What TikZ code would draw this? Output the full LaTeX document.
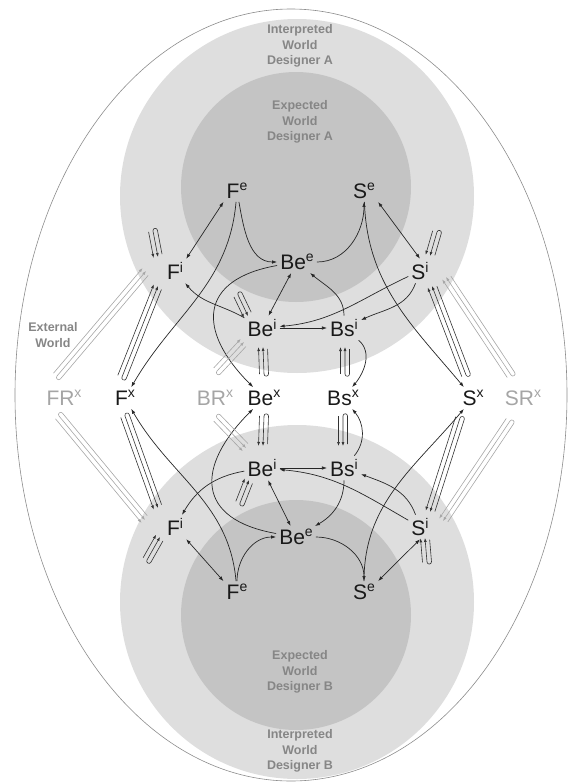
\documentclass[tikz,border=0pt]{standalone}
\usepackage{fontspec}
\setmainfont{Liberation Sans}
\usetikzlibrary{arrows.meta,calc}
\definecolor{lightbg}{HTML}{DEDEDE}
\definecolor{darkbg}{HTML}{C4C4C4}
\definecolor{worldtxt}{HTML}{868686}
\definecolor{reqtxt}{HTML}{A5A5A5}
\newcommand{\ix}[1]{\raisebox{7.8pt}{\fontsize{14}{14}\selectfont #1}}
\newcommand{\pushpull}[4]{%
  \pgfmathsetmacro{\ppo}{#2*4.5}%
  \pgfmathsetmacro{\ppu}{-#2*4.5}%
  \path #3 coordinate (pp-a) #4 coordinate (pp-b);
  \path ($(pp-a)!\ppu pt!90:(pp-b)$) coordinate (pp-c)
        ($(pp-b)!\ppu pt!-90:(pp-a)$) coordinate (pp-d);
  \draw[#1] ($(pp-a)!\ppo pt!90:(pp-b)$) -- ($(pp-b)!\ppo pt!-90:(pp-a)$);
  \draw[#1, shorten <=2pt] (pp-d) -- (pp-c)
    .. controls ($(pp-c)!-3pt!(pp-d)$) and ($(pp-a)!-3pt!(pp-b)$) .. (pp-a) -- (pp-b);
}
\tikzset{
  lbl/.style={font=\fontsize{21}{21}\selectfont, text=black!90, inner sep=3pt},
  req/.style={lbl, text=reqtxt},
  world/.style={font=\fontsize{12.5}{15.5}\selectfont\bfseries, text=worldtxt, align=center},
  link/.style={draw=black!85, line width=0.7pt, -{Latex[length=5pt,width=3.5pt]}},
  both/.style={link, {Latex[length=5pt,width=3.5pt]}-{Latex[length=5pt,width=3.5pt]}},
  ppk/.style={draw=black!80, line width=0.6pt, -{Latex[length=4pt,width=3pt]}},
  ppg/.style={ppk, draw=black!35},
}
\begin{document}
\begin{tikzpicture}[x=1pt,y=-1pt]
\useasboundingbox (0,0) rectangle (570,782);
\begin{scope}
  \clip (291,395) ellipse [x radius=276pt, y radius=386pt];
  \fill[lightbg] (297,196) circle [radius=177pt];
  \fill[lightbg] (297,602) circle [radius=177pt];
  \fill[darkbg] (296,187) circle [radius=115pt];
  \fill[darkbg] (296,615) circle [radius=115pt];
\end{scope}
\draw[black!45, line width=0.6pt] (291,395) ellipse [x radius=276pt, y radius=386pt];

\node[world] (iwa) at (300,46) {Interpreted\\World\\Designer A};
\node[world] (ewa) at (300,122) {Expected\\World\\Designer A};
\node[world] (ewb) at (300,672) {Expected\\World\\Designer B};
\node[world] (iwb) at (300,751) {Interpreted\\World\\Designer B};
\node[world] (ext) at (53,335) {External\\World};

\foreach \n/\x/\y/\t in {FeA/237/191/{F\ix{e}}, SeA/364/191/{S\ix{e}}, BeeA/297/262/{Be\ix{e}},
    FiA/175/271/{F\ix{i}}, SiA/420/271/{S\ix{i}}, BeiA/262/328/{Be\ix{i}}, BsiA/344/328/{Bs\ix{i}},
    Fx/125/398/{F\ix{x}}, Bex/264/398/{Be\ix{x}}, Bsx/343/398/{Bs\ix{x}}, Sx/473/398/{S\ix{x}},
    BeiB/262/468/{Be\ix{i}}, BsiB/344/468/{Bs\ix{i}}, FiB/175/527/{F\ix{i}}, BeeB/296/537/{Be\ix{e}},
    SiB/420/527/{S\ix{i}}, FeB/237/592/{F\ix{e}}, SeB/364/592/{S\ix{e}}}{
  \node[lbl] (\n) at (\x,\y) {\t};
}
\foreach \n/\x/\t in {FRx/64/{FR\ix{x}}, BRx/215/{BR\ix{x}}, SRx/523/{SR\ix{x}}}{
  \node[req] (\n) at (\x,398) {\t};
}

\draw[both] (FeA.south west) -- (FiA.north east);
\draw[link] (FeA) to[out=-80,in=180] (BeeA);
\draw[link] (BeeA) to[out=0,in=-90] (SeA);
\draw[both] (SeA.south east) -- (SiA.north);
\draw[both] (BeeA) -- (BeiA);
\draw[link] (BeiA) to[out=150,in=-50] (FiA);
\draw[link] (BeiA) -- (BsiA);
\draw[link] (BsiA) to[out=90,in=-40] (BeeA);
\draw[link] (SiA) to[out=-155,in=5] (BeiA);
\draw[link] (SiA) to[out=-110,in=25] (BsiA);
\draw[link] (FeA) to[out=-95,in=60] (Fx);
\draw[link] (BeeA) to[out=190,in=135,looseness=1.65] (Bex);
\draw[link] (SeA) to[out=-88,in=130] (Sx);
\draw[link] (BsiA) to[out=-40,in=50] (Bsx);

\draw[both] (FiB.south east) -- (FeB.north west);
\draw[link] (FeB) to[out=90,in=180] (BeeB);
\draw[link] (BeeB) to[out=0,in=90] (SeB);
\draw[both] (SeB.north east) -- (SiB.south);
\draw[both] (BeiB) -- (BeeB);
\draw[link] (BeiB) to[out=-170,in=60] (FiB);
\draw[link] (BeiB) -- (BsiB);
\draw[link] (BsiB) to[out=-90,in=30] (BeeB);
\draw[link] (SiB) to[out=150,in=-5] (BeiB);
\draw[link] (SiB) to[out=110,in=-20] (BsiB);
\draw[link] (FeB) to[out=95,in=-60] (Fx);
\draw[link] (BeeB) to[out=170,in=-135,looseness=1.65] (Bex);
\draw[link] (SeB) to[out=90,in=-130] (Sx);
\draw[link] (BsiB) to[out=50,in=-50] (Bsx);

\pushpull{ppk}{1}{([shift={(-3,-21)}]Fx.center)}{([shift={(-17,15)}]FiA.center)}
\pushpull{ppk}{1}{([shift={(-7,-23)}]Sx.center)}{([shift={(12,15)}]SiA.center)}
\pushpull{ppk}{1}{([shift={(0,-24)}]Bex.center)}{([shift={(1,19)}]BeiA.center)}
\pushpull{ppk}{1}{([shift={(2,-24)}]Bsx.center)}{([shift={(1,19)}]BsiA.center)}
\pushpull{ppk}{-1}{([shift={(0,18)}]Fx.center)}{([shift={(-17,-19)}]FiB.center)}
\pushpull{ppk}{-1}{([shift={(-13,20)}]Sx.center)}{([shift={(10,-15)}]SiB.center)}
\pushpull{ppk}{-1}{([shift={(0,18)}]Bex.center)}{([shift={(1,-22)}]BeiB.center)}
\pushpull{ppk}{-1}{([shift={(0,18)}]Bsx.center)}{([shift={(-1,-22)}]BsiB.center)}

\pushpull{ppk}{-1}{([shift={(-22,-40)}]FiA.center)}{([shift={(-17,-14)}]FiA.center)}
\pushpull{ppk}{-1}{([shift={(-24,-33)}]BeiA.center)}{([shift={(-14,-12)}]BeiA.center)}
\pushpull{ppk}{-1}{([shift={(17,-39)}]SiA.center)}{([shift={(10,-15)}]SiA.center)}
\pushpull{ppk}{1}{([shift={(-28,33)}]FiB.center)}{([shift={(-15,10)}]FiB.center)}
\pushpull{ppk}{1}{([shift={(-22,35)}]BeiB.center)}{([shift={(-13,12)}]BeiB.center)}
\pushpull{ppk}{1}{([shift={(7,35)}]SiB.center)}{([shift={(5,11)}]SiB.center)}

\pushpull{ppg}{1}{([shift={(-7,-22)}]FRx.center)}{([shift={(-29,0)}]FiA.center)}
\pushpull{ppg}{1}{([shift={(2,-27)}]BRx.center)}{([shift={(-18,14)}]BeiA.center)}
\pushpull{ppg}{1}{([shift={(-12,-23)}]SRx.center)}{([shift={(26,6)}]SiA.center)}
\pushpull{ppg}{-1}{([shift={(-5,18)}]FRx.center)}{([shift={(-30,-7)}]FiB.center)}
\pushpull{ppg}{-1}{([shift={(2,20)}]BRx.center)}{([shift={(-16,-20)}]BeiB.center)}
\pushpull{ppg}{-1}{([shift={(-13,23)}]SRx.center)}{([shift={(23,-6)}]SiB.center)}
\end{tikzpicture}
\end{document}
